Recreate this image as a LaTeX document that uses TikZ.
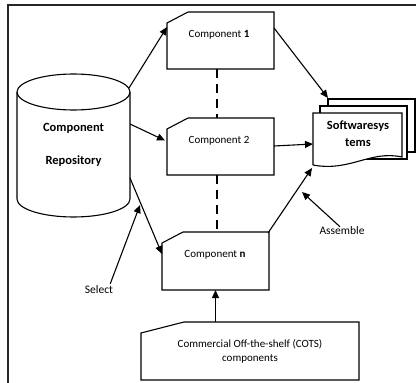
\documentclass[tikz,border=0pt]{standalone}
\usepackage{fontspec}
\setmainfont{Carlito}
\usetikzlibrary{arrows.meta,calc}
\begin{document}
\begin{tikzpicture}[x=1pt,y=-1pt,
  box/.style={rectangle,inner sep=0pt,outer sep=0pt},
  lbl/.style={inner sep=0pt,font=\fontsize{11}{13}\selectfont},
  slbl/.style={inner sep=0pt,font=\fontsize{11.5}{13}\selectfont},
  blbl/.style={inner sep=0pt,font=\fontsize{12.5}{15}\selectfont\bfseries},
  edge/.style={line width=1.1pt},
  arr/.style={line width=1.1pt,-{Triangle[length=8pt,width=7pt]}},
  dashlink/.style={line width=1.6pt,dash pattern=on 9pt off 6pt},
  frame/.style={line width=1.5pt,black!85}]
\useasboundingbox (0,0) rectangle (416,383);
\draw[frame] (8,383) -- (8,5) -- (416,5);

% cylinder
\draw[edge,fill=white] (17,92) -- (17,199) arc[start angle=180,end angle=360,x radius=56.5,y radius=-18] -- (130,92);
\draw[edge] (73.5,92) ellipse[x radius=56.5,y radius=18];
\node[box,minimum width=113pt,minimum height=143pt] (repo) at (73.5,145.5) {};
\node[blbl] (repot1) at (73.5,128) {Component};
\node[blbl] (repot2) at (73.5,161) {Repository};
\coordinate (r1) at (129,88);
\coordinate (r2) at (130,124);
\coordinate (r3) at (130,178);

% component boxes
\node[box,minimum width=107pt,minimum height=57pt] (c1) at (220.5,40.5) {};
\node[box,minimum width=107pt,minimum height=57pt] (c2) at (220.5,146.5) {};
\node[box,minimum width=107pt,minimum height=58pt] (cn) at (215.5,261) {};
\node[box,minimum width=218pt,minimum height=58pt] (cots) at (250,351) {};
\foreach \n/\cx/\cy in {c1/21/11,c2/21/11,cn/21/11,cots/43/11}{
  \draw[edge,fill=white] (\n.south west) -- (\n.south east) -- (\n.north east)
    -- ($(\n.north west)+(\cx,0)$) -- ($(\n.north west)+(0,\cy)$) -- cycle;
}
\node[lbl] (c1t) at (219,35) {Component \textbf{1}};
\node[lbl] (c2t) at (219,141) {Component 2};
\node[lbl] (cnt) at (215,255) {Component \textbf{n}};
\node[lbl,align=center] (cotst) at (250,351.5) {Commercial Off-the-shelf (COTS)\\[1pt]components};

% dashed links
\draw[dashlink] ($(c1.south)+(-3.5,0)$) -- ($(c2.north)+(-3.5,0)$);
\draw[dashlink] ($(c2.south)+(-3.5,0)$) -- ($(cn.north)+(1.5,0)$);

% document stack
\draw[edge,fill=white] (328,152) -- (328,99) -- (415,99) -- (415,152) -- cycle;
\draw[edge,fill=white] (320,159) -- (320,106) -- (407,106) -- (407,159) -- cycle;
\draw[edge,fill=white] (313,165) -- (313,113) -- (402,113) -- (402,157)
  .. controls (370,150) and (350,172) .. (313,165);
\node[box,minimum width=89pt,minimum height=52pt] (doc) at (357.5,139) {};
\node[blbl] (doct1) at (358,126) {Softwaresys};
\node[blbl] (doct2) at (358,143) {tems};
\coordinate (docback) at (328,98);

% labels
\node[slbl] (sel) at (99,290) {Select};
\node[slbl] (asm) at (342,231) {Assemble};
\coordinate (selend) at (140,205);
\coordinate (asmend) at (302,192);

% arrows
\draw[arr] (r1) -- ($(c1.north west)+(0,15)$);
\draw[arr] (r2) -- ($(c2.west)+(-2,-6)$);
\draw[arr] (r3) -- ($(cn.west)+(0,-7)$);
\draw[arr] ($(c1.north east)+(0,16)$) -- (docback);
\draw[arr] ($(c2.east)+(0,-0.5)$) -- ($(doc.west)+(0,5)$);
\draw[arr] ($(cn.north east)+(-1,1)$) -- ($(doc.south west)+(-1,3)$);
\draw[arr] ($(sel.north east)+(-3,-2)$) -- (selend);
\draw[arr] ($(asm.north)+(-2,0)$) -- (asmend);
\draw[arr] (cots.north -| cn.south) -- (cn.south);
\end{tikzpicture}
\end{document}
